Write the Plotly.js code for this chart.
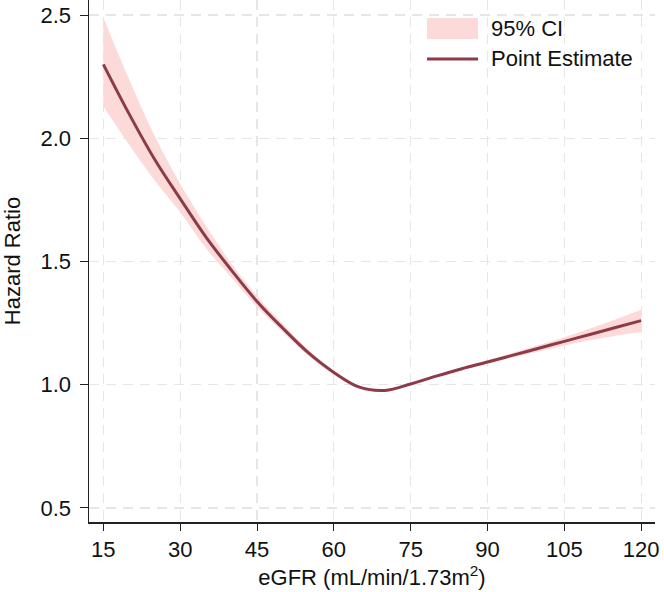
<!DOCTYPE html>
<html>
<head>
<meta charset="utf-8">
<script src="https://cdn.plot.ly/plotly-3.0.1.min.js"></script>
<style>
  html, body { margin: 0; padding: 0; background: #fff; }
  #chart { width: 664px; height: 592px; }
</style>
</head>
<body>
<div id="chart"></div>
<script>
document.addEventListener('DOMContentLoaded', function () {
    // eGFR (mL/min/1.73m2) and the spline estimate
    var egfr = [15, 20, 25, 30, 35, 40, 45, 50, 55, 60, 65, 70, 75, 80, 85, 90, 95, 100, 105, 110, 115, 120];
    var hr = [2.30, 2.10, 1.915, 1.755, 1.60, 1.465, 1.338, 1.23, 1.13, 1.05, 0.99, 0.977, 1.003, 1.035, 1.065, 1.092, 1.12, 1.148, 1.176, 1.204, 1.232, 1.26];
    var ciUpper = [2.49, 2.24, 2.01, 1.815, 1.645, 1.492, 1.36, 1.247, 1.142, 1.058, 0.996, 0.983, 1.008, 1.04, 1.071, 1.099, 1.13, 1.161, 1.193, 1.228, 1.265, 1.304];
    var ciLower = [2.13, 1.975, 1.83, 1.70, 1.555, 1.435, 1.315, 1.214, 1.118, 1.042, 0.984, 0.971, 0.998, 1.03, 1.059, 1.085, 1.11, 1.135, 1.159, 1.18, 1.199, 1.214];

    var xTicks = [15, 30, 45, 60, 75, 90, 105, 120];
    var yTicks = [0.5, 1.0, 1.5, 2.0, 2.5];
    var legendLabels = ['95% CI', 'Point Estimate'];

    var bandColor = 'rgb(252,218,218)';
    var lineColor = '#8c3b47';
    var font = 'Liberation Sans, Arial, sans-serif';

    var lower = {
        x: egfr,
        y: ciLower,
        type: 'scatter',
        mode: 'lines',
        line: { width: 0, shape: 'spline', color: bandColor },
        hoverinfo: 'skip',
        showlegend: false
    };

    var upper = {
        x: egfr,
        y: ciUpper,
        type: 'scatter',
        mode: 'lines',
        fill: 'tonexty',
        fillcolor: bandColor,
        line: { width: 0, shape: 'spline', color: bandColor },
        name: legendLabels[0],
        showlegend: false
    };

    var estimate = {
        x: egfr,
        y: hr,
        type: 'scatter',
        mode: 'lines',
        line: { width: 3, shape: 'spline', color: lineColor },
        name: legendLabels[1],
        showlegend: false
    };

    // plot area in pixels: x 89..655, y 0..522
    function px(v) { return (v - 89) / 566; }
    function py(v) { return 1 - v / 522; }

    var layout = {
        width: 664,
        height: 592,
        margin: { l: 89, r: 9, t: 0, b: 70 },
        paper_bgcolor: '#fff',
        plot_bgcolor: '#fff',
        font: { family: font, size: 22, color: '#111' },
        xaxis: {
            range: [12.2, 122.7],
            tickvals: xTicks,
            ticks: 'outside',
            ticklen: 7,
            tickcolor: '#222',
            tickfont: { size: 22 },
            showline: true,
            linecolor: '#222',
            linewidth: 1.5,
            showgrid: true,
            gridcolor: '#e6e6e6',
            griddash: '10px,7px',
            gridwidth: 1.2,
            zeroline: false,
            title: { text: 'eGFR (mL/min/1.73m<sup>2</sup>)', standoff: 3, font: { size: 22 } }
        },
        yaxis: {
            range: [0.443, 2.561],
            tickvals: yTicks,
            tickformat: '.1f',
            ticks: 'outside',
            ticklen: 8,
            tickcolor: '#222',
            tickfont: { size: 22 },
            ticklabelstandoff: 4,
            showline: true,
            linecolor: '#222',
            linewidth: 1.5,
            showgrid: true,
            gridcolor: '#e6e6e6',
            griddash: '10px,7px',
            gridwidth: 1.2,
            zeroline: false,
            title: { text: 'Hazard Ratio', standoff: 20, font: { size: 22 } }
        },
        showlegend: false,
        shapes: [
            { type: 'rect', xref: 'paper', yref: 'paper', x0: px(427), x1: px(478), y0: py(39), y1: py(18),
              fillcolor: bandColor, line: { width: 0 } },
            { type: 'line', xref: 'paper', yref: 'paper', x0: px(427), x1: px(478), y0: py(59), y1: py(59),
              line: { color: lineColor, width: 3 } }
        ],
        annotations: [
            { xref: 'paper', yref: 'paper', x: px(489), y: py(28), xanchor: 'left', yanchor: 'middle',
              text: legendLabels[0], showarrow: false, font: { size: 22 } },
            { xref: 'paper', yref: 'paper', x: px(489), y: py(58), xanchor: 'left', yanchor: 'middle',
              text: legendLabels[1], showarrow: false, font: { size: 22 } }
        ]
    };

    Plotly.newPlot('chart', [lower, upper, estimate], layout, { displayModeBar: false, staticPlot: true });
});
</script>
</body>
</html>
